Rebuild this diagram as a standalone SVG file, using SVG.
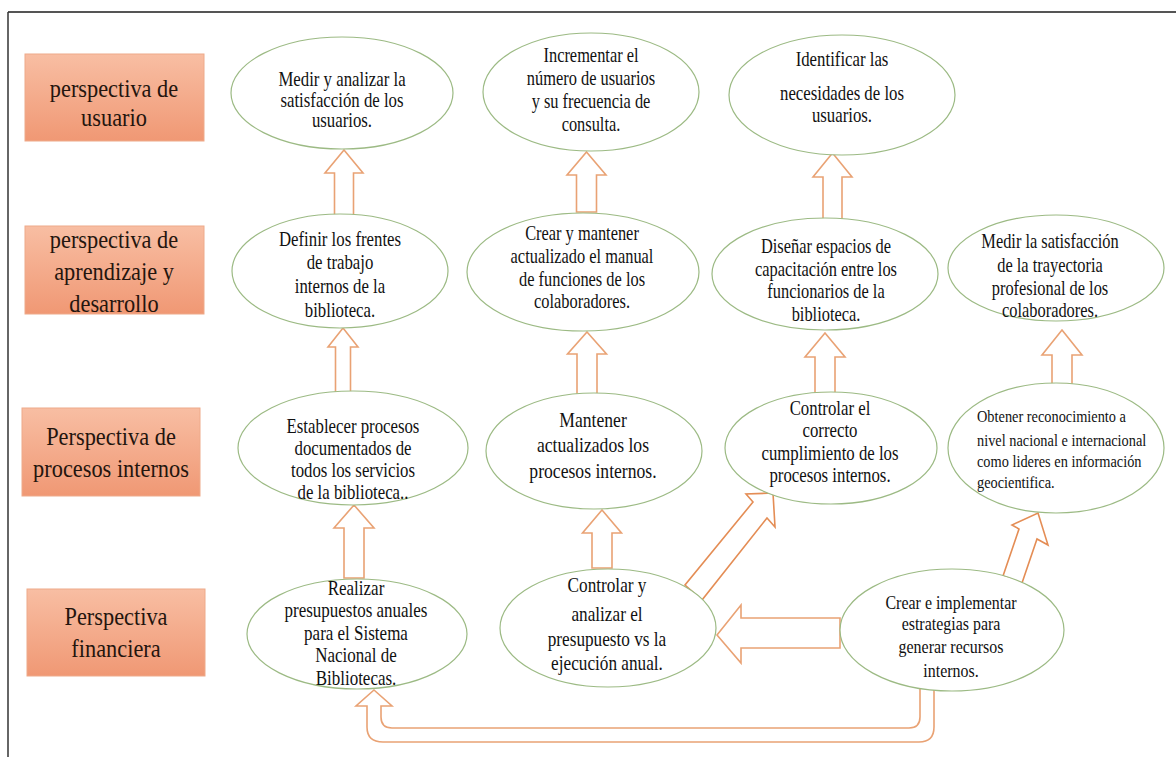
<svg xmlns="http://www.w3.org/2000/svg" width="1176" height="757" viewBox="0 0 1176 757">
<defs>
<linearGradient id="boxg" x1="0" y1="0" x2="0" y2="1">
<stop offset="0" stop-color="#f8bea3"/>
<stop offset="1" stop-color="#f09874"/>
</linearGradient>
</defs>
<style>
.box{fill:url(#boxg);stroke:#eeaa8a;stroke-width:1}
.ell{fill:#ffffff;stroke:#9cba84;stroke-width:1.2}
.arr{fill:#ffffff;stroke:#e9a274;stroke-width:1.6;stroke-linejoin:miter}
.arr2{fill:#ffffff;stroke:#e48d55;stroke-width:1.6}
.bt{font-family:'Liberation Serif','DejaVu Serif',serif;font-size:26px;fill:#24150e;text-anchor:middle}
.et{font-family:'Liberation Serif','DejaVu Serif',serif;font-size:20px;fill:#111111;text-anchor:middle}
</style>
<rect x="0" y="0" width="1176" height="757" fill="#ffffff"/>
<line x1="8" y1="12" x2="1176" y2="12" stroke="#555555" stroke-width="2"/>
<line x1="8" y1="12" x2="8" y2="757" stroke="#333333" stroke-width="1.5"/>

<g id="persp-usuario">
<rect class="box" x="25" y="54" width="179" height="87"/>
<text class="bt" font-family="Liberation Serif, serif" transform="translate(114 0) scale(0.86 1)"><tspan x="0" y="97">perspectiva de</tspan><tspan x="0" y="126">usuario</tspan></text>
</g>
<g id="persp-aprendizaje">
<rect class="box" x="25" y="226" width="179" height="88"/>
<text class="bt" font-family="Liberation Serif, serif" transform="translate(114 0) scale(0.86 1)"><tspan x="0" y="248">perspectiva de</tspan><tspan x="0" y="280">aprendizaje y</tspan><tspan x="0" y="312">desarrollo</tspan></text>
</g>
<g id="persp-procesos">
<rect class="box" x="22" y="408" width="178" height="88"/>
<text class="bt" font-family="Liberation Serif, serif" transform="translate(111 0) scale(0.86 1)"><tspan x="0" y="445">Perspectiva de</tspan><tspan x="0" y="477">procesos internos</tspan></text>
</g>
<g id="persp-financiera">
<rect class="box" x="27" y="589" width="178" height="87"/>
<text class="bt" font-family="Liberation Serif, serif" transform="translate(116 0) scale(0.86 1)"><tspan x="0" y="625">Perspectiva</tspan><tspan x="0" y="657">financiera</tspan></text>
</g>

<g id="connectors">
<polygon class="arr" points="344,150 363,173 353.5,173 353.5,216 334.5,216 334.5,173 325,173"/>
<polygon class="arr" points="586.5,152 606,175 596.5,175 596.5,212 576.5,212 576.5,175 567,175"/>
<polygon class="arr" points="832.5,153 852,177 842,177 842,220 823,220 823,177 813,177"/>
<polygon class="arr" points="343,328 358,347 350.5,347 350.5,397 335.5,397 335.5,347 328,347"/>
<polygon class="arr" points="587,332 606.5,354 597,354 597,395 577,395 577,354 567.5,354"/>
<polygon class="arr" points="825,333 845,357 835,357 835,393 815,393 815,357 805,357"/>
<polygon class="arr" points="1062,330 1082,355 1072,355 1072,384 1052,384 1052,355 1042,355"/>
<polygon class="arr" points="354,505 374,528 364,528 364,578 344,578 344,528 334,528"/>
<polygon class="arr" points="602,510 621.5,533 612,533 612,568 592,568 592,533 582.5,533"/>
<polygon class="arr2" points="773,493 775,527 767,518 702,600 685,585 753,502 746,494"/>
<polygon class="arr2" points="1038,513 1048,545 1037,539 1022,583 1003,576 1019,529 1012,525"/>
<polygon class="arr" points="717,635 741,605 741,618 840,618 840,648 741,648 741,663"/>
<path class="arr" d="M374,690 L392,706 L381,706 L381,717 Q381,728 392,728 L909,728 Q920,728 920,717 L920,684 L934,684 L934,727 Q934,742 919,742 L383,742 Q367,742 367,727 L367,706 L356,706 Z"/>
</g>

<g id="e-medir">
<ellipse class="ell" cx="342" cy="93" rx="111" ry="56"/>
<text class="et" font-family="Liberation Serif, serif" transform="translate(342 0) scale(0.84 1)"><tspan x="0" y="86">Medir y analizar  la</tspan><tspan x="0" y="107">satisfacción de los</tspan><tspan x="0" y="127">usuarios.</tspan></text>
</g>
<g id="e-incrementar">
<ellipse class="ell" cx="591" cy="92" rx="108" ry="59"/>
<text class="et" font-family="Liberation Serif, serif" transform="translate(591 0) scale(0.82 1)"><tspan x="0" y="62">Incrementar  el</tspan><tspan x="0" y="85">número de usuarios</tspan><tspan x="0" y="108">y su frecuencia de</tspan><tspan x="0" y="131">consulta.</tspan></text>
</g>
<g id="e-identificar">
<ellipse class="ell" cx="842" cy="95" rx="113" ry="60"/>
<text class="et" font-family="Liberation Serif, serif" transform="translate(842 0) scale(0.84 1)"><tspan x="0" y="66">Identificar  las</tspan><tspan x="0" y="100">necesidades de los</tspan><tspan x="0" y="122">usuarios.</tspan></text>
</g>

<g id="e-definir">
<ellipse class="ell" cx="340" cy="271" rx="108" ry="57"/>
<text class="et" font-family="Liberation Serif, serif" transform="translate(340 0) scale(0.84 1)"><tspan x="0" y="246">Definir  los frentes</tspan><tspan x="0" y="269">de trabajo</tspan><tspan x="0" y="293">internos  de la</tspan><tspan x="0" y="317">biblioteca.</tspan></text>
</g>
<g id="e-crear-manual">
<ellipse class="ell" cx="583" cy="272" rx="116" ry="59"/>
<text class="et" font-family="Liberation Serif, serif" transform="translate(582 0) scale(0.82 1)"><tspan x="0" y="240">Crear y mantener</tspan><tspan x="0" y="263">actualizado  el manual</tspan><tspan x="0" y="286">de funciones de los</tspan><tspan x="0" y="308">colaboradores.</tspan></text>
</g>
<g id="e-disenar">
<ellipse class="ell" cx="825" cy="274" rx="113" ry="56"/>
<text class="et" font-family="Liberation Serif, serif" transform="translate(826 0) scale(0.82 1)"><tspan x="0" y="253">Diseñar espacios de</tspan><tspan x="0" y="276">capacitación entre los</tspan><tspan x="0" y="298">funcionarios de la</tspan><tspan x="0" y="321">biblioteca.</tspan></text>
</g>
<g id="e-medir-trayectoria">
<ellipse class="ell" cx="1056" cy="268" rx="108" ry="53"/>
<text class="et" font-family="Liberation Serif, serif" transform="translate(1050 0) scale(0.82 1)"><tspan x="0" y="248">Medir la satisfacción</tspan><tspan x="0" y="272">de la trayectoria</tspan><tspan x="0" y="295">profesional de los</tspan><tspan x="0" y="317">colaboradores.</tspan></text>
</g>

<g id="e-establecer">
<ellipse class="ell" cx="353" cy="448" rx="115" ry="57"/>
<text class="et" font-family="Liberation Serif, serif" transform="translate(353 0) scale(0.84 1)"><tspan x="0" y="433">Establecer procesos</tspan><tspan x="0" y="455">documentados de</tspan><tspan x="0" y="477">todos los servicios</tspan><tspan x="0" y="499">de la biblioteca..</tspan></text>
</g>
<g id="e-mantener">
<ellipse class="ell" cx="594" cy="451" rx="108" ry="58"/>
<text class="et" font-family="Liberation Serif, serif" transform="translate(593 0) scale(0.84 1)" style="font-size:21px"><tspan x="0" y="427">Mantener</tspan><tspan x="0" y="452">actualizados  los</tspan><tspan x="0" y="478">procesos internos.</tspan></text>
</g>
<g id="e-controlar-cumplimiento">
<ellipse class="ell" cx="831" cy="448" rx="106" ry="56"/>
<text class="et" font-family="Liberation Serif, serif" transform="translate(830 0) scale(0.84 1)"><tspan x="0" y="415">Controlar el</tspan><tspan x="0" y="437">correcto</tspan><tspan x="0" y="460">cumplimiento de los</tspan><tspan x="0" y="482">procesos internos.</tspan></text>
</g>
<g id="e-obtener">
<ellipse class="ell" cx="1056" cy="448" rx="108" ry="65"/>
<text class="et" font-family="Liberation Serif, serif" transform="translate(977 0) scale(0.82 1)" style="text-anchor:start;font-size:17.5px"><tspan x="0" y="422">Obtener reconocimiento  a</tspan><tspan x="0" y="446">nivel  nacional  e internacional</tspan><tspan x="0" y="467">como lideres  en información</tspan><tspan x="0" y="488">geocientifica.</tspan></text>
</g>

<g id="e-realizar">
<ellipse class="ell" cx="357" cy="634" rx="110" ry="55"/>
<text class="et" font-family="Liberation Serif, serif" transform="translate(356 0) scale(0.85 1)"><tspan x="0" y="595">Realizar</tspan><tspan x="0" y="617">presupuestos anuales</tspan><tspan x="0" y="640">para el Sistema</tspan><tspan x="0" y="662">Nacional de</tspan><tspan x="0" y="685">Bibliotecas.</tspan></text>
</g>
<g id="e-controlar-presupuesto">
<ellipse class="ell" cx="608" cy="628" rx="108" ry="59"/>
<text class="et" font-family="Liberation Serif, serif" transform="translate(607 0) scale(0.82 1)" style="font-size:21px"><tspan x="0" y="592">Controlar y</tspan><tspan x="0" y="621">analizar  el</tspan><tspan x="0" y="646">presupuesto vs la</tspan><tspan x="0" y="670">ejecución  anual.</tspan></text>
</g>
<g id="e-crear-estrategias">
<ellipse class="ell" cx="952" cy="630" rx="112" ry="61"/>
<text class="et" font-family="Liberation Serif, serif" transform="translate(951 0) scale(0.84 1)" style="font-size:19px"><tspan x="0" y="609">Crear e implementar</tspan><tspan x="0" y="630">estrategias para</tspan><tspan x="0" y="653">generar recursos</tspan><tspan x="0" y="677">internos.</tspan></text>
</g>
</svg>
